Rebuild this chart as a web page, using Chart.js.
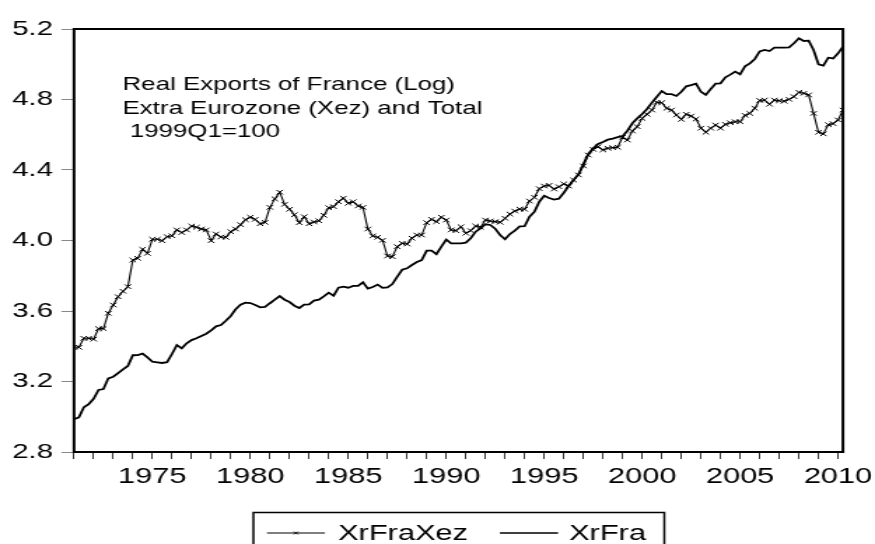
<!DOCTYPE html>
<html>
<head>
<meta charset="utf-8">
<script src="https://cdn.jsdelivr.net/npm/chart.js@4.4.0/dist/chart.umd.min.js"></script>
<style>
html,body{margin:0;padding:0;background:#fff;overflow:hidden}
canvas{display:block}
</style>
</head>
<body>
<canvas id="c" width="625" height="544" style="width:875px;height:544px"></canvas>
<script>
// Quarterly data, first observation 1971Q1
const startYear = 1971;
const seriesLabels = ['XrFraXez', 'XrFra'];

const xrFraXez = [
  3.394, 3.394, 3.445, 3.445, 3.440, 3.500, 3.500, 3.587, 3.634, 3.681,
  3.712, 3.738, 3.889, 3.899, 3.950, 3.927, 4.007, 4.007, 3.999, 4.022,
  4.027, 4.060, 4.045, 4.060, 4.082, 4.075, 4.065, 4.060, 3.999, 4.037,
  4.020, 4.018, 4.050, 4.065, 4.090, 4.118, 4.132, 4.120, 4.095, 4.103,
  4.188, 4.236, 4.274, 4.205, 4.177, 4.146, 4.101, 4.135, 4.095, 4.105,
  4.112, 4.143, 4.186, 4.192, 4.220, 4.240, 4.211, 4.220, 4.196, 4.188,
  4.065, 4.026, 4.018, 4.001, 3.912, 3.908, 3.965, 3.984, 3.980, 4.013,
  4.031, 4.031, 4.101, 4.120, 4.107, 4.132, 4.116, 4.060, 4.056, 4.078,
  4.041, 4.056, 4.082, 4.075, 4.116, 4.111, 4.107, 4.103, 4.126, 4.150,
  4.167, 4.178, 4.177, 4.224, 4.245, 4.294, 4.309, 4.313, 4.292, 4.305,
  4.321, 4.309, 4.343, 4.372, 4.423, 4.485, 4.517, 4.532, 4.514, 4.523,
  4.527, 4.529, 4.586, 4.570, 4.621, 4.646, 4.693, 4.716, 4.740, 4.784,
  4.782, 4.750, 4.740, 4.712, 4.687, 4.716, 4.706, 4.689, 4.637, 4.614,
  4.637, 4.655, 4.637, 4.659, 4.668, 4.674, 4.674, 4.710, 4.721, 4.750,
  4.795, 4.797, 4.773, 4.797, 4.793, 4.790, 4.801, 4.816, 4.841, 4.835,
  4.826, 4.721, 4.614, 4.605, 4.657, 4.663, 4.684, 4.740
];

const xrFra = [
  2.986, 2.997, 3.054, 3.072, 3.102, 3.152, 3.157, 3.218, 3.227, 3.248,
  3.269, 3.288, 3.349, 3.350, 3.358, 3.337, 3.312, 3.309, 3.305, 3.310,
  3.356, 3.407, 3.388, 3.417, 3.435, 3.445, 3.458, 3.471, 3.490, 3.513,
  3.520, 3.545, 3.572, 3.610, 3.636, 3.647, 3.645, 3.634, 3.621, 3.623,
  3.644, 3.664, 3.685, 3.664, 3.651, 3.630, 3.617, 3.636, 3.638, 3.659,
  3.664, 3.683, 3.704, 3.687, 3.732, 3.738, 3.732, 3.742, 3.742, 3.763,
  3.727, 3.736, 3.750, 3.731, 3.734, 3.753, 3.795, 3.834, 3.842, 3.861,
  3.878, 3.889, 3.942, 3.942, 3.922, 3.965, 4.005, 3.984, 3.984, 3.984,
  3.988, 4.013, 4.050, 4.069, 4.092, 4.088, 4.067, 4.031, 4.007, 4.037,
  4.056, 4.080, 4.081, 4.135, 4.163, 4.220, 4.254, 4.241, 4.232, 4.237,
  4.271, 4.309, 4.343, 4.376, 4.434, 4.491, 4.523, 4.548, 4.559, 4.572,
  4.578, 4.586, 4.591, 4.623, 4.665, 4.693, 4.718, 4.746, 4.782, 4.816,
  4.848, 4.830, 4.830, 4.820, 4.844, 4.875, 4.882, 4.890, 4.844, 4.826,
  4.860, 4.890, 4.892, 4.926, 4.941, 4.958, 4.943, 4.988, 5.005, 5.030,
  5.073, 5.081, 5.075, 5.094, 5.094, 5.094, 5.096, 5.119, 5.147, 5.132,
  5.134, 5.081, 5.000, 4.992, 5.037, 5.033, 5.062, 5.100
];

const xTickLabels = ['1975', '1980', '1985', '1990', '1995', '2000', '2005', '2010'];
const yTickLabels = ['2.8', '3.2', '3.6', '4.0', '4.4', '4.8', '5.2'];
const noteLines = ['Real Exports of France (Log)', 'Extra Eurozone (Xez) and Total', ' 1999Q1=100'];

const FONT = "'Liberation Sans', Arial, sans-serif";
const xMin = startYear;
const xMax = startYear + (xrFra.length - 1) / 4;

function toPoints(arr) {
  return arr.map((v, i) => ({ x: startYear + i / 4, y: v }));
}

const framePlugin = {
  id: 'frameAndNotes',
  afterDatasetsDraw(chart) {
    const { ctx, chartArea: a } = chart;
    ctx.save();
    // plot frame
    ctx.strokeStyle = '#000';
    ctx.lineWidth = 2;
    ctx.strokeRect(a.left, a.top, a.right - a.left, a.bottom - a.top);
    // note text
    ctx.fillStyle = '#000';
    ctx.font = '18.5px ' + FONT;
    ctx.textAlign = 'left';
    ctx.textBaseline = 'alphabetic';
    noteLines.forEach((t, k) => ctx.fillText(t, 87.5, 90 + k * 23.7));
    ctx.restore();
  },
  afterDraw(chart) {
    const ctx = chart.ctx;
    const ds = chart.data.datasets;
    ctx.save();
    ctx.strokeStyle = '#000';
    ctx.fillStyle = '#000';
    ctx.lineWidth = 1.5;
    ctx.strokeRect(181, 512.5, 293.5, 45);
    const ly = 533;
    // sample 1 (with marker)
    ctx.lineWidth = 1;
    ctx.beginPath(); ctx.moveTo(190.7, ly); ctx.lineTo(232.1, ly); ctx.stroke();
    ctx.beginPath();
    ctx.moveTo(210, ly - 1.4); ctx.lineTo(212.8, ly + 1.4);
    ctx.moveTo(210, ly + 1.4); ctx.lineTo(212.8, ly - 1.4);
    ctx.stroke();
    // sample 2
    ctx.lineWidth = 1.6;
    ctx.beginPath(); ctx.moveTo(357.1, ly); ctx.lineTo(398.6, ly); ctx.stroke();
    ctx.font = '22px ' + FONT;
    ctx.textAlign = 'left';
    ctx.textBaseline = 'middle';
    ctx.fillText(ds[0].label, 241.4, ly + 1);
    ctx.fillText(ds[1].label, 406.4, ly + 1);
    ctx.restore();
  }
};

new Chart(document.getElementById('c'), {
  type: 'line',
  data: {
    datasets: [
      {
        label: seriesLabels[0],
        data: toPoints(xrFraXez),
        borderColor: '#000',
        borderWidth: 1.1,
        pointStyle: 'crossRot',
        pointRadius: 3.2,
        pointBorderWidth: 1,
        pointBorderColor: '#000',
        pointBackgroundColor: '#000',
        pointHoverRadius: 3.2,
        tension: 0,
        fill: false
      },
      {
        label: seriesLabels[1],
        data: toPoints(xrFra),
        borderColor: '#000',
        borderWidth: 1.8,
        pointRadius: 0,
        pointHoverRadius: 0,
        tension: 0,
        fill: false
      }
    ]
  },
  options: {
    responsive: false,
    animation: false,
    devicePixelRatio: 1,
    events: [],
    layout: { padding: { left: 0, right: 22.9, top: 29, bottom: 0 } },
    plugins: { legend: { display: false }, tooltip: { enabled: false } },
    scales: {
      x: {
        type: 'linear',
        position: 'bottom',
        min: xMin,
        max: xMax,
        afterBuildTicks(axis) {
          const t = [];
          for (let y = startYear; y <= Math.floor(xMax); y++) t.push({ value: y });
          t.push({ value: xMax });
          axis.ticks = t;
        },
        afterFit(scale) { scale.height = 92; },
        ticks: {
          autoSkip: false,
          maxRotation: 0,
          minRotation: 0,
          padding: 5,
          color: '#000',
          font: { family: FONT, size: 22 },
          callback(v) {
            const s = String(v);
            return xTickLabels.includes(s) ? s : '';
          }
        },
        grid: {
          drawOnChartArea: false,
          drawTicks: true,
          tickLength: 7,
          lineWidth: 1,
          color(ctx) {
            return ctx.tick && ctx.tick.value > Math.floor(xMax) + 0.01 ? 'rgba(0,0,0,0)' : '#333';
          }
        },
        border: { display: false }
      },
      y: {
        min: 2.8,
        max: 5.2,
        afterFit(scale) { scale.width = 52.86; },
        afterBuildTicks(axis) {
          axis.ticks = yTickLabels.map(s => ({ value: parseFloat(s) }));
        },
        ticks: {
          padding: 6,
          color: '#000',
          font: { family: FONT, size: 21 },
          callback(v) {
            const s = Number(v).toFixed(1);
            return yTickLabels.includes(s) ? s : '';
          }
        },
        grid: {
          drawOnChartArea: false,
          drawTicks: true,
          tickLength: 9,
          lineWidth: 1,
          color: '#888'
        },
        border: { display: false }
      }
    }
  },
  plugins: [framePlugin]
});
</script>
</body>
</html>
